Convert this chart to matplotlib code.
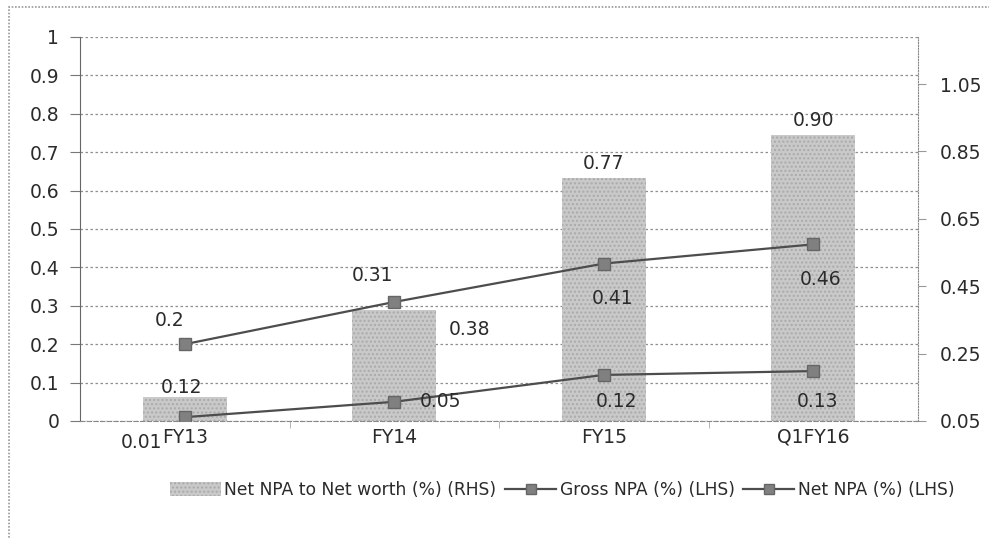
import matplotlib
matplotlib.use("Agg")
import matplotlib.pyplot as plt
from matplotlib.patches import Rectangle, Patch
from matplotlib.lines import Line2D
import numpy as np

plt.rcParams["font.family"] = ["DejaVu Sans"]

categories = ["FY13", "FY14", "FY15", "Q1FY16"]
net_npa_to_net_worth = [0.12, 0.38, 0.77, 0.90]   # RHS, bars
gross_npa = [0.20, 0.31, 0.41, 0.46]              # LHS, line
net_npa = [0.01, 0.05, 0.12, 0.13]                # LHS, line

bar_labels = ["0.12", "0.38", "0.77", "0.90"]
gross_labels = ["0.2", "0.31", "0.41", "0.46"]
net_labels = ["0.01", "0.05", "0.12", "0.13"]

left_ticks = np.round(np.arange(0, 1.01, 0.1), 1)
right_ticks = [0.05, 0.25, 0.45, 0.65, 0.85, 1.05]

# label offsets in points (dx, dy)
bar_offsets = [(-2, 7), (54, -14), (0, 11), (0, 10)]
gross_offsets = [(-11, 17), (-16, 19), (6, -25), (5, -25)]
net_offsets = [(-31, -18), (33, 0), (9, -19), (3, -22)]

fig = plt.figure(figsize=(9.89, 5.39), dpi=100)
ax = fig.add_axes([80 / 989, 118 / 539, 838 / 989, 384 / 539])
ax2 = ax.twinx()

x = np.arange(len(categories))
grid_col = "#8f8f8f"
line_col = "#4d4d4d"
mark_col = "#808080"
text_col = "#2b2b2b"
fs = 13.5

# left axis: grid and scale
ax.set_xlim(-0.5, len(categories) - 0.5)
ax.set_ylim(0, 1)
ax.set_yticks(left_ticks)
ax.set_yticklabels([f"{t:g}" for t in left_ticks])
ax.grid(axis="y", color=grid_col, linestyle=(0, (2, 2)), linewidth=0.9)
ax.set_axisbelow(True)
ax.set_xticks(x)
ax.set_xticklabels(categories)
ax.set_xticks(np.arange(0.5, len(categories) - 1, 1), minor=True)
ax.tick_params(axis="x", which="major", length=0, labelsize=fs, pad=5, colors=text_col)
ax.tick_params(axis="x", which="minor", length=5, color="#aaaaaa", direction="out")
ax.tick_params(axis="y", length=7, color="#777777", labelsize=fs, pad=8, labelcolor=text_col)
for s in ["top", "right"]:
    ax.spines[s].set_visible(False)
ax.spines["left"].set_color("#666666")
ax.spines["bottom"].set_color("#888888")
ax.spines["bottom"].set_linestyle((0, (4, 2)))

# right axis: bars
ax2.set_ylim(0.05, 0.05 + 384 / 337)
ax2.set_yticks(right_ticks)
ax2.set_yticklabels([f"{t:.2f}" for t in right_ticks])
ax2.tick_params(axis="y", length=6, color="#999999", labelsize=fs, pad=10, labelcolor=text_col)
for s in ["top", "left", "bottom"]:
    ax2.spines[s].set_visible(False)
ax2.spines["right"].set_color("#888888")
ax2.spines["right"].set_linestyle((0, (1, 1.5)))

ax2.bar(x, net_npa_to_net_worth, width=0.4, color="#c9c9c9", edgecolor="#aaaaaa",
        hatch="....", linewidth=0, zorder=2)

# lines drawn on ax2 (above bars) but in the left-axis scale
ax2.plot(x, gross_npa, color=line_col, linewidth=1.6, marker="s", markersize=8,
         markerfacecolor=mark_col, markeredgecolor="#666666", transform=ax.transData, zorder=3)
ax2.plot(x, net_npa, color=line_col, linewidth=1.6, marker="s", markersize=8,
         markerfacecolor=mark_col, markeredgecolor="#666666", transform=ax.transData, zorder=3)

txt = dict(fontsize=fs, color=text_col, ha="center", va="center", textcoords="offset points",
           zorder=4)
for i in range(len(categories)):
    ax2.annotate(bar_labels[i], (x[i], net_npa_to_net_worth[i]), xytext=bar_offsets[i], **txt)
    ax2.annotate(gross_labels[i], (x[i], gross_npa[i]), xycoords=ax.transData,
                 xytext=gross_offsets[i], **txt)
    ax2.annotate(net_labels[i], (x[i], net_npa[i]), xycoords=ax.transData,
                 xytext=net_offsets[i], annotation_clip=False, **txt)

handles = [
    Patch(facecolor="#c9c9c9", edgecolor="#aaaaaa", hatch="....", linewidth=0),
    Line2D([], [], color=line_col, linewidth=1.6, marker="s", markersize=7,
           markerfacecolor=mark_col, markeredgecolor="#666666"),
    Line2D([], [], color=line_col, linewidth=1.6, marker="s", markersize=7,
           markerfacecolor=mark_col, markeredgecolor="#666666"),
]
fig.legend(handles, ["Net NPA to Net worth (%) (RHS)", "Gross NPA (%) (LHS)", "Net NPA (%) (LHS)"],
           loc="center", bbox_to_anchor=(562 / 989, 1 - 490 / 539), ncol=3, frameon=False,
           fontsize=12.3, handlelength=3.0, handleheight=0.9, handletextpad=0.2,
           columnspacing=0.5, labelcolor=text_col)

# outer chart border
fig.patches.append(Rectangle((9 / 989, -0.02), 1.0, 1 - 7 / 539 + 0.02, transform=fig.transFigure,
                             fill=False, edgecolor="#999999", linewidth=1.2,
                             linestyle=(0, (1, 1))))

fig.savefig("out.png", dpi=100)
plt.close(fig)
